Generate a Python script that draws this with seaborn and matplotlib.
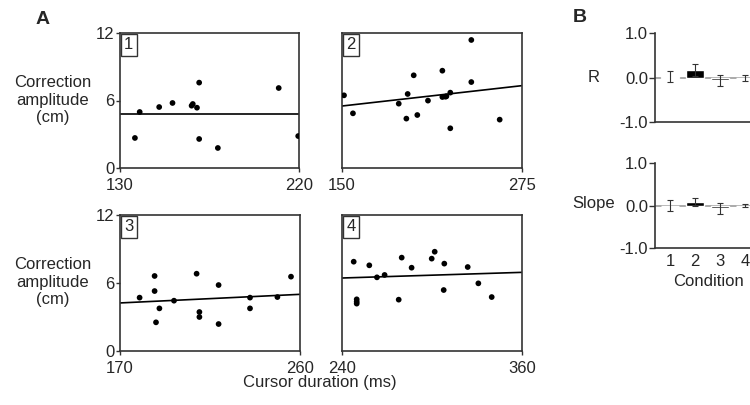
import numpy as np
import pandas as pd
import matplotlib
matplotlib.use("Agg")
import matplotlib.pyplot as plt
import seaborn as sns

sns.set_theme(style="ticks")
plt.rcParams['font.family'] = ['Liberation Sans', 'DejaVu Sans']

# ---- Panel A data ----
p1_x = [137.5, 139.9, 149.7, 156.4, 166.0, 166.6, 168.7, 169.8, 169.8, 179.2, 209.8, 219.6]
p1_y = [2.67, 4.98, 5.42, 5.78, 5.54, 5.69, 5.36, 7.59, 2.58, 1.78, 7.11, 2.84]
p2_x = [151.4, 157.6, 189.4, 194.7, 195.6, 199.8, 202.3, 209.7, 219.7, 219.7, 221.8, 222.5,
        225.2, 225.2, 239.8, 239.8, 259.5]
p2_y = [6.46, 4.86, 5.72, 4.39, 6.58, 8.24, 4.71, 5.99, 8.65, 6.31, 6.34, 6.37,
        6.70, 3.53, 11.38, 7.64, 4.30]
p3_x = [179.8, 187.3, 187.3, 189.7, 188.0, 197.0, 208.3, 209.7, 209.7, 219.3, 219.3,
        235.0, 235.0, 248.7, 255.5]
p3_y = [4.71, 6.62, 5.29, 3.76, 2.53, 4.44, 6.82, 3.44, 3.00, 5.82, 2.38,
        4.71, 3.76, 4.76, 6.56]
p4_x = [247.8, 249.8, 249.8, 249.8, 258.2, 263.3, 268.4, 277.8, 279.8, 286.4, 299.8,
        301.8, 308.2, 307.8, 323.8, 330.9, 339.8]
p4_y = [7.88, 4.56, 4.35, 4.18, 7.56, 6.50, 6.71, 4.53, 8.24, 7.35, 8.15,
        8.76, 7.71, 5.38, 7.41, 5.97, 4.76]

panel_names = ["1", "2", "3", "4"]
x_ranges = [(130, 220), (150, 275), (170, 260), (240, 360)]
# regression line values at left / right end of each x range
fit_left = [4.77, 5.51, 4.24, 6.44]
fit_right = [4.77, 7.32, 5.00, 6.94]
y_ticks = [0, 6, 12]

# ---- Panel B data ----
conditions = [1, 2, 3, 4]
r_mean = [0.02, 0.17, -0.06, -0.01]
r_err = [0.12, 0.13, 0.12, 0.07]
slope_mean = [0.00, 0.08, -0.06, 0.00]
slope_err = [0.12, 0.10, 0.13, 0.04]
b_ticks = [-1.0, 0.0, 1.0]

W, H = 750, 405
fig = plt.figure(figsize=(W / 100, H / 100), dpi=100)

def frac(left, top, right, bottom):
    return [left / W, 1 - bottom / H, (right - left) / W, (bottom - top) / H]

rects = [frac(120, 33, 299, 168), frac(342, 33, 522, 168),
         frac(120, 215, 300, 351), frac(342, 215, 522, 351)]
xs = [p1_x, p2_x, p3_x, p4_x]
ys = [p1_y, p2_y, p3_y, p4_y]
fs = 12
for i in range(4):
    ax = fig.add_axes(rects[i])
    df = pd.DataFrame({"x": xs[i], "y": ys[i]})
    sns.scatterplot(data=df, x="x", y="y", ax=ax, color="black", s=17,
                    edgecolor="none", zorder=3)
    x0, x1 = x_ranges[i]
    sns.lineplot(x=[x0, x1], y=[fit_left[i], fit_right[i]], ax=ax,
                 color="black", lw=1.2)
    ax.set_xlim(x0, x1)
    ax.set_ylim(0, 12)
    ax.set_xticks([x0, x1])
    ax.set_xticklabels([str(x0), str(x1)], fontsize=fs)
    ax.set_yticks(y_ticks)
    if i % 2 == 0:
        ax.set_yticklabels([str(t) for t in y_ticks], fontsize=fs)
        ax.tick_params(axis="y", length=3, width=1, pad=1, color="#333333")
    else:
        ax.set_yticklabels([])
        ax.tick_params(axis="y", length=0)
    ax.tick_params(axis="x", length=3, width=1, pad=4, color="#333333")
    ax.set_xlabel("")
    ax.set_ylabel("")
    for sp in ax.spines.values():
        sp.set_visible(True)
        sp.set_linewidth(1.2)
        sp.set_color("#333333")
    ax.annotate(panel_names[i], xy=(0.0, 1.0), xycoords="axes fraction",
                xytext=(3.0, -3.0), textcoords="offset points",
                ha="left", va="top", fontsize=fs,
                bbox=dict(boxstyle="square,pad=0.22", fc="white",
                          ec="#333333", lw=1.0))

# y labels of panel A
for yc in [100, 282]:
    fig.text(53 / W, 1 - yc / H, "Correction\namplitude\n(cm)", ha="center",
             va="center", fontsize=fs, linespacing=1.2)
fig.text(320 / W, 1 - 383 / H, "Cursor duration (ms)", ha="center", va="center",
         fontsize=fs)
fig.text(43 / W, 1 - 19 / H, "A", ha="center", va="center", fontsize=14,
         fontweight="bold")
fig.text(580 / W, 1 - 18 / H, "B", ha="center", va="center", fontsize=14,
         fontweight="bold")

# ---- Panel B ----
b_rects = [frac(655, 33, 760, 122), frac(655, 163, 760, 248)]
b_means = [r_mean, slope_mean]
b_errs = [r_err, slope_err]
for j in range(2):
    ax = fig.add_axes(b_rects[j])
    ax.axhline(0, color="#aaaaaa", lw=1.4, zorder=1)
    dfb = pd.DataFrame({"cond": conditions, "val": b_means[j]})
    ax.bar(dfb["cond"], dfb["val"], width=0.74, color="black", zorder=2)
    ax.errorbar(dfb["cond"], dfb["val"], yerr=b_errs[j], fmt="none",
                ecolor="#333333", elinewidth=0.8, capsize=2.0, capthick=0.8,
                zorder=3)
    ax.set_xlim(0.4, 4.6)
    ax.set_ylim(-1.0, 1.0)
    ax.set_yticks(b_ticks)
    ax.set_yticklabels(["-1.0", "0.0", "1.0"], fontsize=fs)
    ax.tick_params(axis="y", length=4, width=1, pad=1, color="#333333")
    ax.set_xticks(conditions)
    if j == 1:
        ax.set_xticklabels([str(c) for c in conditions], fontsize=fs)
    else:
        ax.set_xticklabels([])
    ax.tick_params(axis="x", length=0, pad=4)
    sns.despine(ax=ax, top=True, right=True)
    for s in ["left", "bottom"]:
        ax.spines[s].set_linewidth(1.2)
        ax.spines[s].set_color("#333333")
    ax.set_ylabel("")

fig.text(594 / W, 1 - 78 / H, "R", ha="center", va="center", fontsize=fs)
fig.text(594 / W, 1 - 204 / H, "Slope", ha="center", va="center", fontsize=fs)
fig.text(708 / W, 1 - 282 / H, "Condition", ha="center", va="center", fontsize=fs)

fig.savefig("out.png", dpi=100)
